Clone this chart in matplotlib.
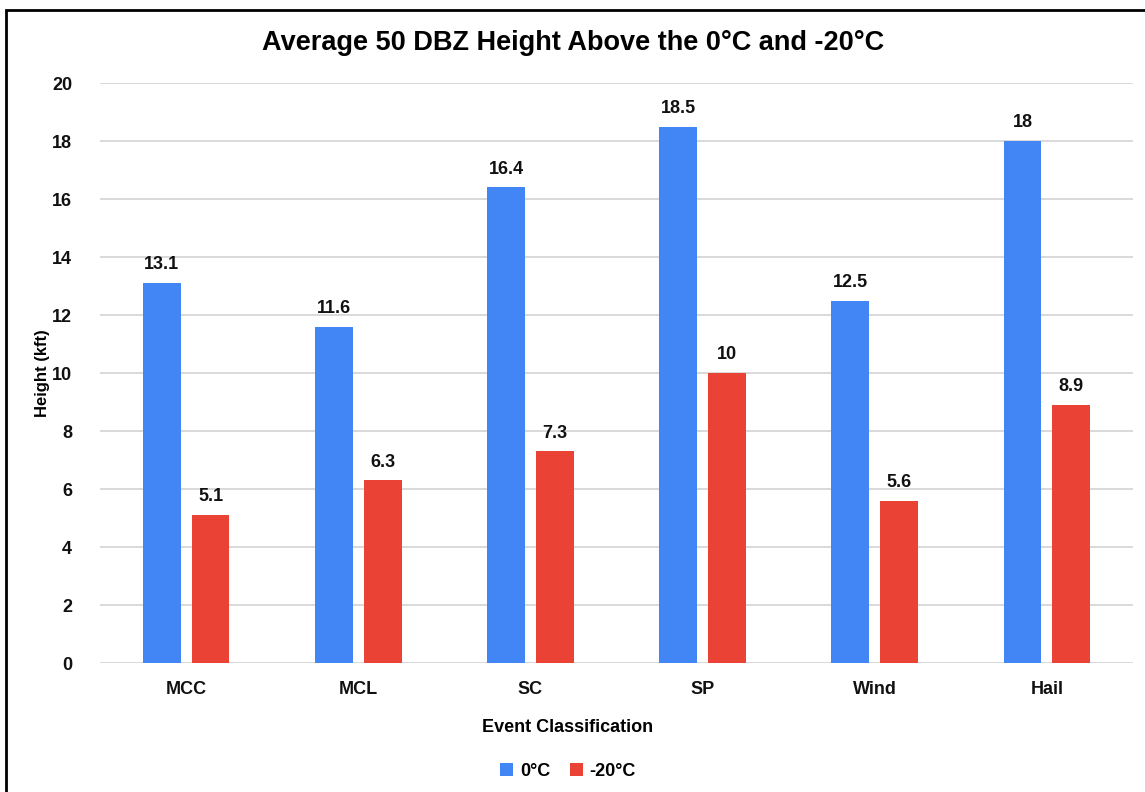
#!/usr/bin/env python3
"""Average 50 DBZ height above the 0C and -20C levels, grouped bars."""

import matplotlib
matplotlib.use("Agg")
import matplotlib.pyplot as plt
import numpy as np
from matplotlib.patches import Rectangle

categories = ["MCC", "MCL", "SC", "SP", "Wind", "Hail"]
height_0c = [13.1, 11.6, 16.4, 18.5, 12.5, 18]
height_m20c = [5.1, 6.3, 7.3, 10, 5.6, 8.9]
series_names = ["0°C", "-20°C"]
yticks = [0, 2, 4, 6, 8, 10, 12, 14, 16, 18, 20]

BLUE = "#4285F4"
RED = "#EA4335"
FONT = "Liberation Sans"

W, H = 1145, 792
fig = plt.figure(figsize=(W / 100, H / 100), dpi=100)
ax = fig.add_axes([100 / W, (H - 663) / H, (1133 - 100) / W, (663 - 83) / H])

x = np.arange(len(categories))
bw = 0.22
off = 0.142
b1 = ax.bar(x - off, height_0c, bw, color=BLUE, label=series_names[0], zorder=3)
b2 = ax.bar(x + off, height_m20c, bw, color=RED, label=series_names[1], zorder=3)

def fmt(v):
    return f"{v:g}"

for bars, vals in [(b1, height_0c), (b2, height_m20c)]:
    for rect, v in zip(bars, vals):
        ax.annotate(fmt(v), (rect.get_x() + rect.get_width() / 2, v),
                    xytext=(0, 7), textcoords="offset points",
                    ha="center", va="bottom", fontsize=13,
                    fontweight="bold", family=FONT, color="#111111")

ax.set_xlim(-0.5, len(categories) - 0.5)
ax.set_ylim(0, 20)
ax.set_yticks(yticks)
ax.set_xticks(x)
ax.set_xticklabels(categories)
ax.grid(axis="y", color="#d9d9d9", linewidth=1.4, zorder=0)
for s in ax.spines.values():
    s.set_visible(False)
ax.tick_params(length=0, labelsize=13)
ax.tick_params(axis="x", pad=13)
ax.tick_params(axis="y", pad=20)
for lab in ax.get_xticklabels() + ax.get_yticklabels():
    lab.set_fontweight("bold")
    lab.set_family(FONT)
    lab.set_color("#111111")

fig.text(43 / W, 1 - 373 / H, "Height (kft)", rotation=90, ha="center",
         va="center", fontsize=12, fontweight="bold", family=FONT)
fig.text(568 / W, 1 - 728 / H, "Event Classification", ha="center",
         va="center", fontsize=13, fontweight="bold", family=FONT)
fig.text(573 / W, 1 - 43 / H, "Average 50 DBZ Height Above the 0°C and -20°C",
         ha="center", va="center", fontsize=19.5, fontweight="bold",
         family=FONT)

leg = fig.legend(handles=[b1, b2], loc="center", bbox_to_anchor=(568 / W, 1 - 771 / H),
                 ncol=2, frameon=False, handlelength=0.75, handleheight=0.75,
                 handletextpad=0.35, columnspacing=1.1,
                 prop={"family": FONT, "weight": "bold", "size": 13})

# outer border (top and left visible in the reference)
fig.patches.append(Rectangle((6 / W, -0.1), 1.2, 1 - 10 / H + 0.1,
                             transform=fig.transFigure, fill=False,
                             edgecolor="black", linewidth=2))

fig.savefig("out.png", dpi=100, facecolor="white")
